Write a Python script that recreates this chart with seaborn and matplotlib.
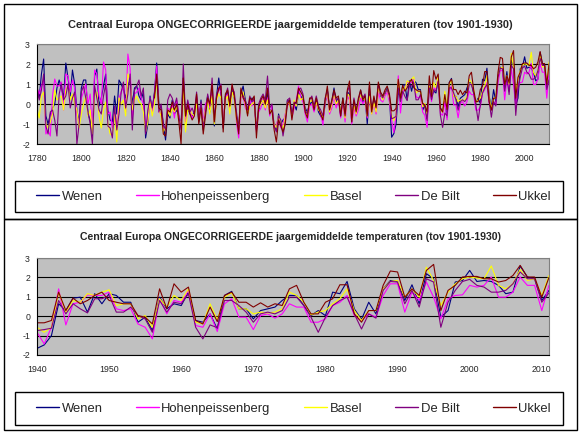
import matplotlib
matplotlib.use("Agg")
import matplotlib.pyplot as plt
import seaborn as sns
import pandas as pd
from matplotlib.patches import Rectangle
from matplotlib.lines import Line2D
from matplotlib.ticker import MultipleLocator, FixedLocator

# ---------------- data ----------------
stations = ["Wenen", "Hohenpeissenberg", "Basel", "De Bilt", "Ukkel"]
colors = ["#000080", "#FF00FF", "#FFFF00", "#800080", "#800000"]

title_text = "Centraal Europa ONGECORRIGEERDE jaargemiddelde temperaturen (tov 1901-1930)"

early_start = 1780          # Wenen, Hohenpeissenberg, Basel, De Bilt
ukkel_start = 1833
recent_start = 1940

wenen_early = [
    0.7, 0.3, 1.5, 2.25, -0.6, -1.0, -0.5, -0.2, 0.0, 0.8,
    1.2, 0.8, 0.3, 2.05, 1.3, 0.4, 1.7, 1.0, -0.3, -0.9,
    0.8, 1.2, 1.2, -0.5, -0.8, -1.6, 1.4, 1.75, -0.1, 0.3,
    0.9, 1.5, -0.3, -0.8, -0.9, 0.4, -0.5, 1.2, 1.0, 0.7,
    0.3, 0.9, 1.2, 0.0, 0.8, 0.9, 0.4, 0.2, 0.6, -1.7,
    -1.0, 0.4, -0.3, 0.6, 2.05, 0.0, -0.2, -1.0, -1.8, -0.5,
    -0.7, 0.2, -0.5, -0.3, -0.6, -1.0, 1.3, -0.8, -0.2, -0.5,
    -0.6, -0.4, 0.3, -0.9, 0.2, -1.3, -0.2, 0.4, -0.4, 0.6,
    -1.1, 0.4, 1.3, 0.5, -1.2, 0.4, 0.6, -0.2, 0.8, 0.3,
    -0.6, -1.3, 0.5, 0.9, 0.2, -0.5, 0.0, 0.3, 0.1, -1.2,
    -0.3, 0.1, 0.2, -0.1, 0.6, -0.4, -0.2, -1.1, -1.3, -0.5,
    -1.0, -0.8, -0.7, 0.2, 0.1, -0.4, 0.0, -0.3, 0.6, 0.4,
    0.2, -0.2, -0.4, 0.0, 0.1, -0.3, 0.2, -0.4, -0.6, -0.8,
    0.0, 0.7, -0.3, 0.1, 0.8, 0.1, 0.3, -0.5, 0.3, -0.6,
    0.6, 0.5, -0.9, 0.1, -0.4, 0.0, 0.7, 0.1, 0.4, -1.0,
    0.5, -0.4, 0.2, -0.3, 0.9, 0.4, 0.3, 0.5, 0.8, 0.4,
]
hohen_early = [
    0.8, 0.5, 0.9, 1.2, -1.5, -1.3, -1.6, 0.4, 1.25, 0.9,
    0.9, 1.1, -0.3, 1.5, 1.4, 0.6, 1.2, 0.8, -0.5, -1.0,
    0.3, 0.6, 1.0, 0.0, 0.5, -1.4, 1.7, 1.5, 0.4, 0.0,
    2.1, 1.7, -0.5, -0.4, -1.2, -0.4, -1.1, 0.3, 0.6, 0.9,
    -0.4, 2.5, 1.8, -0.7, 0.5, 0.6, 0.8, 0.3, 0.0, -1.0,
    -0.8, 0.3, -0.4, 0.5, 1.9, -0.4, -0.5, -1.3, -1.2, -0.2,
    -0.3, 0.0, -0.7, 0.2, -0.5, -1.2, 1.0, -0.9, 0.1, -0.2,
    -0.7, -0.5, 0.4, -0.6, 0.0, -0.9, 0.0, 0.2, -0.2, 0.6,
    -0.9, 0.3, 0.8, 0.6, -0.9, 0.3, 0.5, -0.3, 0.9, 0.5,
    -0.9, -1.7, 0.3, 0.4, -0.2, -0.4, 0.2, -0.1, 0.2, -1.4,
    -0.4, -0.2, 0.3, -0.3, 0.3, -0.6, -0.1, -1.2, -1.0, -0.7,
    -1.2, -1.0, -0.5, -0.1, 0.2, -0.7, -0.2, 0.2, 0.9, 0.3,
    0.1, -0.5, -0.9, -0.1, 0.0, -0.4, 0.0, -0.2, -0.5, -1.05,
    0.1, 0.5, -0.5, -0.2, 0.4, -0.2, 0.2, -0.7, 0.1, -0.9,
    0.4, 0.2, -1.0, -0.2, -0.6, -0.3, 0.3, 0.0, 0.2, -0.7,
    0.3, -0.5, 0.0, -0.5, 0.6, 0.2, 0.1, 0.4, 0.6, 0.1,
]
basel_early = [
    -0.2, -0.7, 0.4, 0.6, -1.0, -1.2, -0.9, -0.5, 0.7, 0.2,
    0.3, 0.4, -0.3, 0.7, 0.9, 0.2, 0.5, 0.0, -0.3, -1.2,
    -0.5, 0.0, 0.4, -0.6, -0.3, -1.5, 0.4, 0.6, -0.6, -1.2,
    -0.3, 0.1, -1.0, -1.5, -1.6, -0.5, -1.9, 0.3, 0.0, 0.2,
    -0.6, 1.5, 1.2, -0.3, 0.2, 0.4, 0.1, 0.0, -0.4, -1.4,
    -0.9, 0.2, -0.6, 0.0, 1.2, -0.3, -0.6, -1.4, -1.1, -0.3,
    -0.6, -0.2, -0.4, -0.1, -0.8, -1.0, 0.9, -1.4, -0.3, -0.3,
    -0.5, -0.6, 0.0, -0.7, -0.2, -1.0, -0.3, 0.1, -0.5, 0.4,
    -1.0, 0.2, 0.5, 0.3, -1.0, 0.2, 0.4, -0.5, 0.6, 0.3,
    -0.8, -1.2, 0.4, 0.6, 0.0, -0.5, -0.1, 0.0, 0.1, -1.1,
    -0.2, 0.0, 0.2, -0.2, 0.2, -0.4, -0.3, -1.0, -1.2, -0.6,
    -0.9, -1.3, -0.6, 0.1, 0.0, -0.6, 0.2, -0.1, 0.5, 0.2,
    0.3, -0.3, -0.6, 0.1, 0.2, -0.2, 0.1, -0.3, -0.4, -0.7,
    0.2, 0.6, -0.4, 0.0, 0.5, 0.0, 0.2, -0.4, 0.2, -0.7,
    0.5, 0.4, -0.8, 0.0, -0.5, 0.1, 0.5, 0.2, 0.3, -0.6,
    0.4, -0.5, 0.1, -0.4, 0.8, 0.5, 0.2, 0.6, 0.7, 0.3,
]
debilt_early = [
    0.9, 0.2, 0.7, 1.5, -1.1, -1.5, -0.4, -0.3, -0.8, -1.6,
    0.5, 1.0, 0.2, 0.4, 1.0, -0.2, 0.3, 0.6, -2.0, -1.0,
    0.6, 0.9, 0.3, -0.4, -1.0, -2.0, 0.9, 0.3, -0.3, -0.5,
    0.4, 1.0, -1.1, -1.2, -1.7, -0.1, -1.3, -0.5, 0.6, 1.1,
    -0.2, 0.5, 1.5, -1.3, 0.7, 0.9, 1.2, 0.4, 0.8, -1.5,
    -0.3, 0.3, -0.2, 0.5, 1.4, -0.4, 0.0, -1.0, -1.3, 0.2,
    0.5, 0.3, -0.1, 0.3, -0.6, -1.3, 2.0, -0.6, 0.2, -0.4,
    -0.2, -0.5, 0.6, -0.8, 0.1, -1.2, -0.4, 0.5, -0.1, 1.3,
    -0.8, 0.5, 0.7, 1.0, -1.2, 0.4, 0.8, 0.0, 0.8, 0.6,
    -0.4, -1.2, 0.7, 0.4, 0.2, -0.3, 0.4, 0.1, 0.3, -1.3,
    0.0, 0.3, 0.5, 0.2, 1.4, -0.2, 0.0, -1.1, -1.4, -0.6,
    -0.8, -1.6, -0.9, 0.2, 0.3, -0.5, 0.1, 0.0, 0.7, 0.8,
    0.5, -0.3, -0.5, 0.2, 0.4, -0.1, 0.4, -0.1, -0.3, -0.6,
    0.3, 0.7, -0.2, 0.1, 0.6, 0.2, 0.3, -0.6, 0.2, -0.5,
    0.6, 0.9, -0.7, 0.3, -0.3, 0.2, 0.6, 0.3, 0.5, -0.5,
    0.9, -0.3, 0.3, 0.0, 1.0, 0.5, 0.3, 0.6, 0.7, 0.4,
]
ukkel_early = [
    0.3, 1.5, -0.2, -0.3, -1.5, -1.6, -0.3,
    -0.4, 0.1, -0.3, 0.0, -0.9, -2.0, 1.3, -0.6, 0.0, -0.5,
    -0.8, -0.6, 0.5, -1.0, -0.2, -1.5, -0.6, 0.3, 0.0, 1.0,
    -0.9, 0.3, 0.8, 0.9, -1.4, 0.5, 0.7, -0.1, 1.0, 0.4,
    -0.7, -1.5, 0.8, 0.3, 0.1, -0.6, 0.3, 0.2, 0.4, -1.7,
    -0.2, 0.2, 0.4, 0.0, 0.8, -0.5, -0.3, -1.3, -1.9, -0.8,
    -1.1, -1.4, -1.0, 0.0, 0.2, -0.8, 0.0, 0.1, 0.8, 0.6,
    0.4, -0.4, -0.7, 0.3, 0.3, -0.3, 0.3, -0.2, -0.5, -0.8,
    0.2, 0.9, -0.3, 0.2, 0.7, 0.3, 0.4, -0.6, 0.3, -0.6,
    0.7, 1.15, -0.9, 0.2, -0.4, 0.3, 0.7, 0.2, 0.4, -0.6,
    1.1, -0.4, 0.4, -0.2, 1.1, 0.6, 0.4, 0.7, 0.9, 0.5,
]

# 1940 - 2011
wenen_recent = [
    -1.66, -1.48, -1.0, 0.64, 0.29, 0.93, 0.98, 0.21, 1.16, 0.64,
    1.16, 1.07, 0.72, 0.72, -0.31, -0.05, -0.74, 0.98, 0.38, 0.64,
    0.55, 1.24, -0.22, -0.31, 0.12, -0.66, 1.07, 1.28, 0.38, 0.38,
    -0.14, 0.29, 0.38, 0.47, 0.81, 1.07, 1.07, 0.55, 0.03, 0.29,
    0.03, 1.24, 1.16, 1.79, 0.38, -0.17, 0.72, 0.12, 1.41, 1.84,
    1.79, 0.81, 1.62, 0.64, 2.19, 1.93, -0.05, 0.29, 1.76, 1.84,
    2.36, 1.79, 1.84, 1.79, 1.59, 1.16, 1.24, 2.59, 2.02, 1.93,
    0.81, 1.33,
]
hohen_recent = [
    -0.83, -1.43, -0.57, 1.41, -0.45, 0.64, 0.72, 1.10, 1.07, 1.07,
    1.24, 0.38, 0.29, 0.38, -0.40, -0.57, -1.17, 0.90, 0.12, 0.81,
    0.72, 1.33, -0.48, -0.57, 0.12, -0.79, 0.64, 0.90, -0.05, -0.05,
    -0.69, 0.03, 0.12, -0.10, 0.12, 0.64, 0.47, 0.47, -0.31, -0.31,
    -0.14, 0.55, 0.72, 1.07, 0.03, -0.22, 0.12, -0.05, 1.07, 1.67,
    1.67, 0.21, 1.24, 0.81, 1.76, 0.98, -0.14, 0.90, 1.07, 1.10,
    1.59, 1.50, 1.59, 2.02, 0.98, 0.98, 1.24, 2.02, 1.59, 1.59,
    0.29, 1.6,
]
basel_recent = [
    -0.57, -0.83, -0.57, 1.24, 0.21, 0.81, 0.72, 1.16, 1.07, 1.24,
    1.36, 0.55, 0.64, 0.64, -0.14, 0.03, -0.57, 0.90, 0.47, 1.07,
    0.81, 1.41, -0.31, -0.40, 0.64, -0.19, 0.98, 1.21, 0.38, 0.38,
    0.12, 0.21, 0.17, 0.21, 0.38, 1.24, 1.07, 0.72, 0.07, 0.21,
    0.29, 0.64, 0.90, 1.41, 0.29, -0.22, 0.29, 0.29, 1.41, 1.79,
    1.84, 0.98, 1.41, 0.98, 2.53, 1.84, 0.55, 1.24, 1.67, 1.93,
    2.02, 1.97, 1.93, 2.59, 1.59, 1.41, 1.67, 2.41, 1.84, 1.93,
    1.07, 2.1,
]
debilt_recent = [
    -0.74, -0.69, -0.62, 0.81, 0.12, 0.64, 0.38, 0.17, 0.90, 0.90,
    1.07, 0.21, 0.21, 0.47, 0.03, -0.14, -0.83, 0.81, 0.21, 0.72,
    0.64, 1.16, -0.57, -1.17, -0.45, -0.59, 0.81, 0.81, 0.55, 0.21,
    -0.31, 0.12, 0.21, 0.12, 0.29, 0.98, 0.98, 0.55, -0.05, -0.83,
    -0.05, 0.55, 0.81, 0.98, 0.12, -0.66, 0.12, -0.10, 1.33, 1.79,
    1.76, 0.64, 1.33, 0.47, 1.93, 1.76, -0.57, 0.72, 1.33, 1.79,
    1.90, 1.59, 1.50, 1.24, 1.24, 1.33, 1.67, 2.28, 1.93, 1.93,
    0.72, 1.2,
]
ukkel_recent = [
    -0.34, -0.34, -0.22, 1.24, 0.29, 0.93, 0.64, 0.81, 1.07, 1.24,
    0.81, 0.72, 0.64, 0.64, 0.03, -0.05, -0.40, 1.41, 0.38, 1.67,
    1.24, 1.50, -0.22, -0.40, 0.47, -0.28, 1.07, 1.24, 0.72, 0.72,
    0.47, 0.69, 0.47, 0.64, 0.55, 1.41, 1.59, 0.72, 0.12, 0.12,
    0.72, 0.90, 1.62, 1.62, 0.12, -0.31, 0.29, 0.29, 1.59, 2.33,
    2.28, 0.98, 1.41, 1.07, 2.36, 2.67, 0.29, 1.33, 1.59, 2.02,
    2.05, 2.05, 1.93, 1.93, 1.76, 1.84, 2.10, 2.62, 2.02, 2.02,
    0.98, 2.0,
]

top_xticks = [1780, 1800, 1820, 1840, 1860, 1880, 1900, 1920, 1940, 1960, 1980, 2000]
bottom_xticks = [1940, 1950, 1960, 1970, 1980, 1990, 2000, 2010]
yticks = [-2, -1, 0, 1, 2, 3]

# ---------------- build tables ----------------
series = {
    "Wenen": (early_start, wenen_early, wenen_recent),
    "Hohenpeissenberg": (early_start, hohen_early, hohen_recent),
    "Basel": (early_start, basel_early, basel_recent),
    "De Bilt": (early_start, debilt_early, debilt_recent),
    "Ukkel": (ukkel_start, ukkel_early, ukkel_recent),
}
rows_full, rows_recent = [], []
for name, (start, early, recent) in series.items():
    vals = list(early) + list(recent)
    for i, v in enumerate(vals):
        rows_full.append((name, start + i, v))
    for i, v in enumerate(recent):
        rows_recent.append((name, recent_start + i, v))
df_full = pd.DataFrame(rows_full, columns=["station", "jaar", "temp"])
df_recent = pd.DataFrame(rows_recent, columns=["station", "jaar", "temp"])

# ---------------- figure ----------------
sns.set_style("white")
plt.rcParams["font.family"] = ["Liberation Sans", "DejaVu Sans"]

W, H = 583, 433
fig = plt.figure(figsize=(W / 100, H / 100), dpi=100)
fig.patch.set_facecolor("white")

def fx(px):
    return px / W

def fy(py):
    return 1 - py / H

def make_axes(top_px, bottom_px):
    return fig.add_axes([fx(37), fy(bottom_px), fx(549) - fx(37), fy(top_px) - fy(bottom_px)])

ax1 = make_axes(44, 144)
ax2 = make_axes(258, 355)

palette = dict(zip(stations, colors))

for ax, df, xlim, xt in [(ax1, df_full, (1780, 2011), top_xticks),
                         (ax2, df_recent, (1940, 2011), bottom_xticks)]:
    ax.set_facecolor("#C0C0C0")
    ax.set_axisbelow(True)
    sns.lineplot(data=df, x="jaar", y="temp", hue="station", hue_order=stations,
                 palette=palette, estimator=None, linewidth=0.8, legend=False, ax=ax)
    ax.set_xlim(*xlim)
    ax.set_ylim(-2, 3)
    ax.set_yticks(yticks)
    ax.set_yticklabels([str(v) for v in yticks])
    ax.set_xticks(xt)
    ax.set_xticklabels([str(v) for v in xt])
    ax.set_xlabel("")
    ax.set_ylabel("")
    ax.yaxis.grid(True, color="black", linewidth=0.8)
    ax.xaxis.grid(False)
    for s in ["left", "bottom"]:
        ax.spines[s].set_color("black")
        ax.spines[s].set_linewidth(0.8)
    for s in ["top", "right"]:
        ax.spines[s].set_color("#808080")
        ax.spines[s].set_linewidth(0.8)
    ax.tick_params(axis="both", which="major", direction="out", length=3, width=0.8,
                   color="black", labelsize=6.3, pad=2)
    ax.tick_params(axis="x", which="major", pad=4)

ax2.xaxis.set_minor_locator(MultipleLocator(1))
ax2.tick_params(axis="x", which="minor", direction="out", length=2, width=0.6, color="black")
ax2.tick_params(axis="x", which="major", length=3.5)

# titles
t1 = fig.text(fx(290), fy(25), title_text, ha="center", va="center",
              fontsize=8, fontweight="bold")
t2 = fig.text(fx(291), fy(236.5), title_text, ha="center", va="center",
              fontsize=7.5, fontweight="bold")

# frames
def rect(x0, y0, x1, y1, lw=1.0):
    fig.add_artist(Rectangle((fx(x0), fy(y1)), fx(x1) - fx(x0), fy(y0) - fy(y1),
                             transform=fig.transFigure, fill=False,
                             edgecolor="black", linewidth=lw))

rect(4, 4, 577, 219)
rect(4, 219, 577, 430)
rect(15, 181, 563, 212)
rect(15, 392, 563, 425)

# legends
handles = [Line2D([0], [0], color=c, linewidth=1.0) for c in colors]
for yc in (196.5, 408.5):
    fig.legend(handles, stations, loc="center",
               bbox_to_anchor=(fx(36), fy(yc) - 0.02, fx(551) - fx(36), 0.04),
               bbox_transform=fig.transFigure, mode="expand", ncol=5,
               frameon=False, fontsize=9.4, handlelength=1.75, handletextpad=0.2,
               borderpad=0, borderaxespad=0)

# fit title widths
fig.canvas.draw()
r = fig.canvas.get_renderer()
for t, target in ((t1, 443), (t2, 420)):
    w = t.get_window_extent(r).width
    t.set_fontsize(t.get_fontsize() * target / w)

fig.savefig("out.png", dpi=100, facecolor="white")
